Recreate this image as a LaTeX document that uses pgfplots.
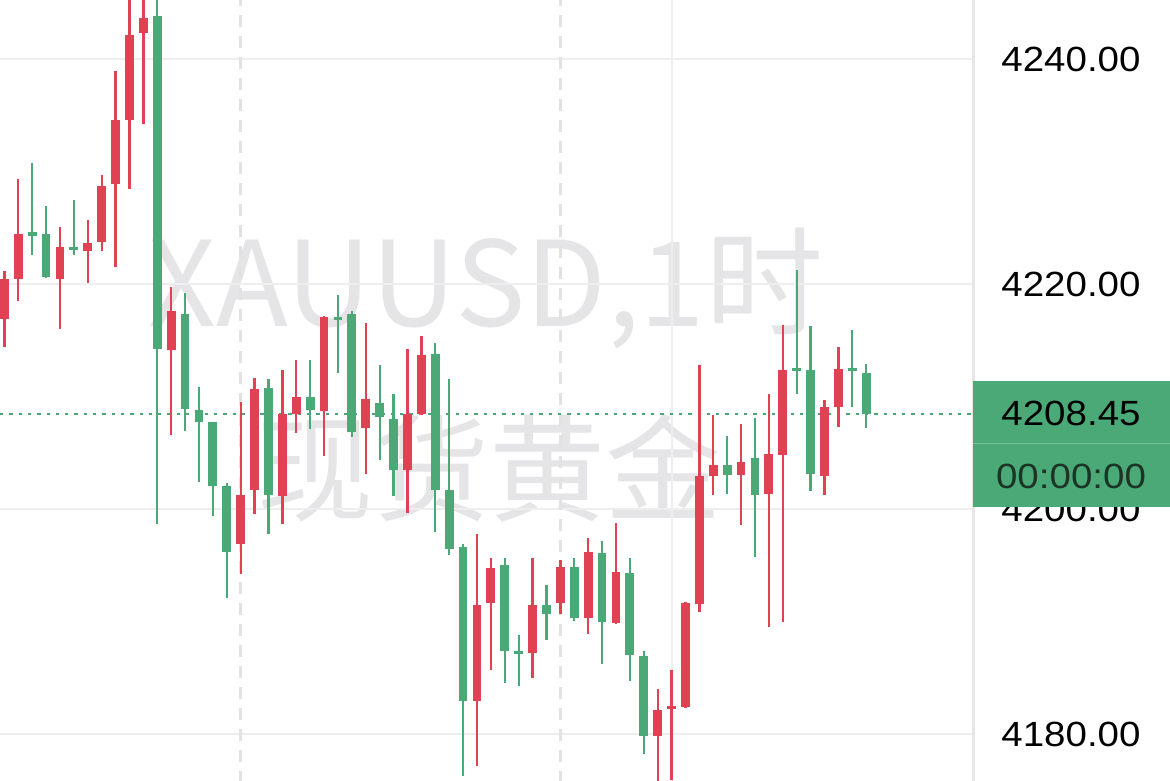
\documentclass[border=0pt]{standalone}
\usepackage{fontspec}
\setmainfont{Liberation Sans}
\newfontfamily\cjk{Noto Sans CJK SC}
\usepackage{pgfplots}
\usepackage{pgfplotstable}
\pgfplotsset{compat=1.18}
\definecolor{cred}{RGB}{224,66,83}
\definecolor{cgreen}{RGB}{74,169,118}
\definecolor{gridgray}{RGB}{238,238,238}
\definecolor{dashgray}{RGB}{226,226,226}
\definecolor{wmgray}{RGB}{229,229,231}
\definecolor{axisgray}{RGB}{230,230,230}
\definecolor{timecol}{RGB}{28,52,38}
\definecolor{divgreen}{RGB}{120,196,152}

% rising candles (red)
\pgfplotstableread{
i open high low close
1 4216.86 4221.19 4214.42 4220.44
2 4220.44 4229.38 4218.54 4224.47
5 4220.44 4225.04 4216.02 4223.32
7 4222.96 4225.71 4220.09 4223.63
8 4223.76 4229.69 4222.96 4228.72
9 4228.89 4238.98 4221.55 4234.56
10 4234.56 4247.00 4228.41 4242.12
11 4242.35 4247.00 4234.20 4243.67
13 4214.12 4219.78 4206.59 4217.57
18 4196.86 4209.56 4194.20 4201.28
19 4201.73 4211.68 4199.60 4210.71
21 4201.19 4212.35 4198.63 4208.45
22 4208.45 4213.23 4206.81 4210.00
24 4208.72 4217.20 4204.73 4217.12
27 4207.17 4216.55 4203.14 4209.82
30 4203.50 4214.20 4199.65 4208.45
31 4208.45 4215.35 4208.40 4213.67
35 4182.92 4197.74 4177.17 4191.46
36 4191.64 4195.62 4185.66 4194.73
39 4187.21 4195.62 4185.00 4191.46
41 4191.64 4195.44 4190.66 4194.87
43 4190.35 4197.39 4188.89 4196.19
45 4189.87 4198.72 4189.80 4194.42
48 4179.82 4184.03 4174.00 4182.17
49 4182.25 4185.71 4175.90 4182.45
50 4182.39 4191.70 4182.30 4191.64
51 4191.55 4212.79 4190.88 4202.92
52 4202.96 4208.36 4201.28 4203.94
54 4203.05 4207.57 4198.54 4204.16
56 4201.37 4210.27 4189.56 4204.91
57 4204.82 4216.33 4190.00 4212.35
60 4202.96 4209.69 4201.28 4209.03
61 4209.03 4214.42 4207.26 4212.48
}\upcandles

% falling candles (green)
\pgfplotstableread{
i open high low close
3 4224.50 4230.80 4222.61 4224.40
4 4224.47 4226.95 4220.50 4220.62
6 4223.25 4227.48 4222.61 4223.10
12 4243.85 4247.00 4198.72 4214.25
14 4217.35 4219.20 4206.95 4208.89
15 4208.81 4210.88 4202.39 4207.70
16 4207.70 4207.75 4199.38 4202.08
17 4202.08 4202.30 4192.08 4196.15
20 4210.71 4211.55 4197.74 4201.28
23 4210.00 4213.23 4207.12 4208.81
25 4217.05 4218.98 4212.12 4216.90
26 4217.35 4217.57 4206.37 4206.81
28 4209.47 4212.79 4204.38 4208.14
29 4208.01 4210.27 4201.19 4203.50
32 4213.76 4214.73 4197.96 4201.73
33 4201.73 4211.59 4195.88 4196.42
34 4196.64 4196.86 4176.28 4182.92
37 4195.00 4195.62 4184.56 4187.35
38 4187.30 4188.76 4184.25 4187.15
40 4191.46 4193.23 4188.36 4190.66
42 4194.87 4195.62 4190.00 4190.35
44 4196.06 4197.17 4186.24 4190.00
46 4194.34 4195.62 4184.69 4187.04
47 4186.90 4187.35 4178.19 4179.82
53 4203.94 4206.46 4201.37 4203.05
55 4204.51 4208.14 4195.75 4201.28
58 4212.45 4221.28 4210.22 4212.30
59 4212.35 4216.24 4201.59 4203.14
62 4212.45 4215.88 4209.03 4212.30
63 4212.12 4212.88 4207.17 4208.45
}\downcandles

\begin{document}
\begin{tikzpicture}
\useasboundingbox (0,0) rectangle (1170pt,781pt);
\fill[white] (0,0) rectangle (1170pt,781pt);
% watermark
\node[anchor=base, inner sep=0pt, text=wmgray, font=\cjk\fontsize{118}{118}\selectfont] at (486pt,454pt) {XAUUSD,1时};
\node[anchor=base, inner sep=0pt, text=wmgray, font=\cjk\fontsize{116}{116}\selectfont] at (489pt,268pt) {现货黄金};
\begin{axis}[
  at={(0pt,0pt)}, anchor=south west,
  scale only axis, width=972pt, height=781pt,
  xmin=0.6835, xmax=70.612,
  ymin=4175.822, ymax=4245.244,
  axis line style={draw=none},
  xtick=\empty,
  ytick={4180,4200,4220,4240},
  yticklabels={4180.00,4200.00,4220.00,4240.00},
  yticklabel pos=right,
  major tick length=0pt,
  tick style={draw=none},
  yticklabel style={anchor=center, xshift=99pt, font=\fontsize{35}{42}\selectfont, xscale=1.1, text=black},
  ymajorgrids,
  major grid style={draw=gridgray, line width=2pt},
  clip=true,
  candle/.style={draw=none, no markers, error bars/.cd, y dir=both, y explicit, error mark=none},
]
\draw[dashgray, line width=2.5pt, dash pattern=on 12pt off 9pt] (axis cs:18,4170) -- (axis cs:18,4250);
\draw[dashgray, line width=2.5pt, dash pattern=on 12pt off 9pt] (axis cs:41,4170) -- (axis cs:41,4250);
\draw[gridgray, line width=2pt] (axis cs:49,4170) -- (axis cs:49,4250);
\draw[cgreen, line width=2.5pt, dash pattern=on 3.3pt off 6pt] (axis cs:0.6835,4208.45) -- (axis cs:70.612,4208.45);
% red wicks
\addplot[candle, error bar style={draw=cred, line width=2.3pt}]
  table[x=i, y expr={(\thisrow{high}+\thisrow{low})/2}, y error expr={(\thisrow{high}-\thisrow{low})/2}] {\upcandles};
% red bodies
\addplot[candle, error bar style={draw=cred, line width=8.8pt}]
  table[x=i, y expr={(\thisrow{open}+\thisrow{close})/2}, y error expr={max(abs(\thisrow{close}-\thisrow{open})/2,0.14)}] {\upcandles};
% green wicks
\addplot[candle, error bar style={draw=cgreen, line width=2.3pt}]
  table[x=i, y expr={(\thisrow{high}+\thisrow{low})/2}, y error expr={(\thisrow{high}-\thisrow{low})/2}] {\downcandles};
% green bodies
\addplot[candle, error bar style={draw=cgreen, line width=8.8pt}]
  table[x=i, y expr={(\thisrow{open}+\thisrow{close})/2}, y error expr={max(abs(\thisrow{close}-\thisrow{open})/2,0.14)}] {\downcandles};
\end{axis}
% right axis line
\draw[axisgray, line width=3pt] (973.5pt,0pt) -- (973.5pt,781pt);
% price box
\fill[cgreen] (973pt,274pt) rectangle (1170pt,400pt);
\draw[divgreen, line width=1pt] (973pt,337pt) -- (1170pt,337pt);
\node[font=\fontsize{35}{42}\selectfont, xscale=1.1, text=black, inner sep=0pt] at (1071pt,367.5pt) {4208.45};
\node[font=\fontsize{35}{42}\selectfont, xscale=1.1, text=timecol, inner sep=0pt] at (1071pt,304.5pt) {00:00:00};
\end{tikzpicture}
\end{document}
